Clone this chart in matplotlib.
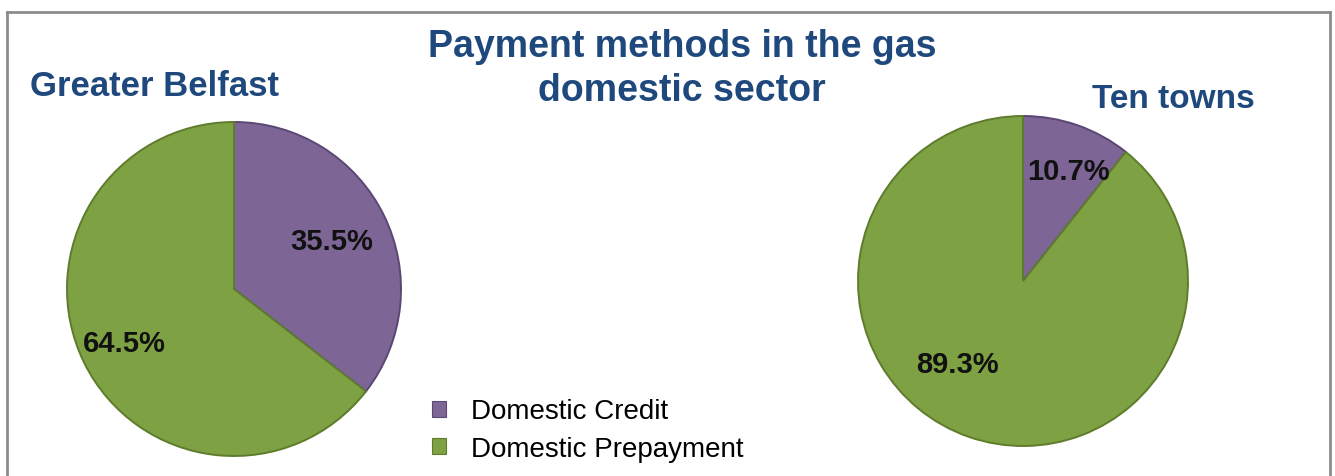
import numpy as np
import matplotlib.pyplot as plt
from matplotlib.patches import Patch
from matplotlib.lines import Line2D

# Données
categories = ['Domestic Credit', 'Domestic Prepayment']
belfast_pct = [35.5, 64.5]
ten_towns_pct = [10.7, 89.3]
region_names = ['Greater Belfast', 'Ten towns']
titre = 'Payment methods in the gas\ndomestic sector'

# Style
couleurs = ['#7d6596', '#7ea143']
bords = ['#5a4773', '#5e7c2c']
bleu_titre = '#1f497d'
plt.rcParams['font.family'] = ['Liberation Sans', 'DejaVu Sans']

W, H = 1335, 477
fig = plt.figure(figsize=(W / 100, H / 100), dpi=100)
fig.patch.set_facecolor('white')


def boite(cx, cy, r):
    # axes carré (pixels) autour du centre de la tarte
    return [(cx - r) / W, (H - cy - r) / H, 2 * r / W, 2 * r / H]


def tarte(ax, valeurs, pos_labels):
    wedges, _ = ax.pie(valeurs, colors=couleurs, startangle=90, counterclock=False,
                       wedgeprops=dict(linewidth=1.4))
    for w, b in zip(wedges, bords):
        w.set_edgecolor(b)
    for w, v, (dist, decal) in zip(wedges, valeurs, pos_labels):
        ang = np.deg2rad((w.theta1 + w.theta2) / 2 + decal)
        ax.text(dist * np.cos(ang), dist * np.sin(ang), f'{v:.1f}%',
                ha='center', va='center', fontsize=21, fontweight='bold', color='#111111')
    ax.set_xlim(-1, 1)
    ax.set_ylim(-1, 1)
    ax.set_aspect('equal')
    ax.axis('off')


ax1 = fig.add_axes(boite(234, 290, 167))
tarte(ax1, belfast_pct, [(0.65, 0), (0.73, 0)])

ax2 = fig.add_axes(boite(1023, 282, 165))
tarte(ax2, ten_towns_pct, [(0.72, -3), (0.64, -19)])

# Titres
fig.text(682 / W, 1 - 69 / H, titre, ha='center', va='center', fontsize=27,
         fontweight='bold', color=bleu_titre, linespacing=1.3)
fig.text(30 / W, 1 - 86 / H, region_names[0], ha='left', va='center', fontsize=25,
         fontweight='bold', color=bleu_titre)
fig.text(1092 / W, 1 - 100 / H, region_names[1], ha='left', va='center', fontsize=24,
         fontweight='bold', color=bleu_titre)

# Légende
poignees = [Patch(facecolor=c, edgecolor=b, linewidth=0.8) for c, b in zip(couleurs, bords)]
fig.legend(poignees, categories, loc='center left', bbox_to_anchor=(418 / W, 1 - 431 / H),
           frameon=False, fontsize=20, handlelength=0.5, handleheight=0.5,
           handletextpad=0.9, labelspacing=0.4, borderpad=0)

# Cadre gris (ouvert en bas)
cadre = dict(color='#8c8c8c', linewidth=2, transform=fig.transFigure)
fig.add_artist(Line2D([7 / W, 7 / W], [0, 1 - 13 / H], **cadre))
fig.add_artist(Line2D([7 / W, 1330 / W], [1 - 13 / H, 1 - 13 / H], **cadre))
fig.add_artist(Line2D([1330 / W, 1330 / W], [0, 1 - 13 / H], **cadre))

fig.savefig('out.png', dpi=100, facecolor='white')
